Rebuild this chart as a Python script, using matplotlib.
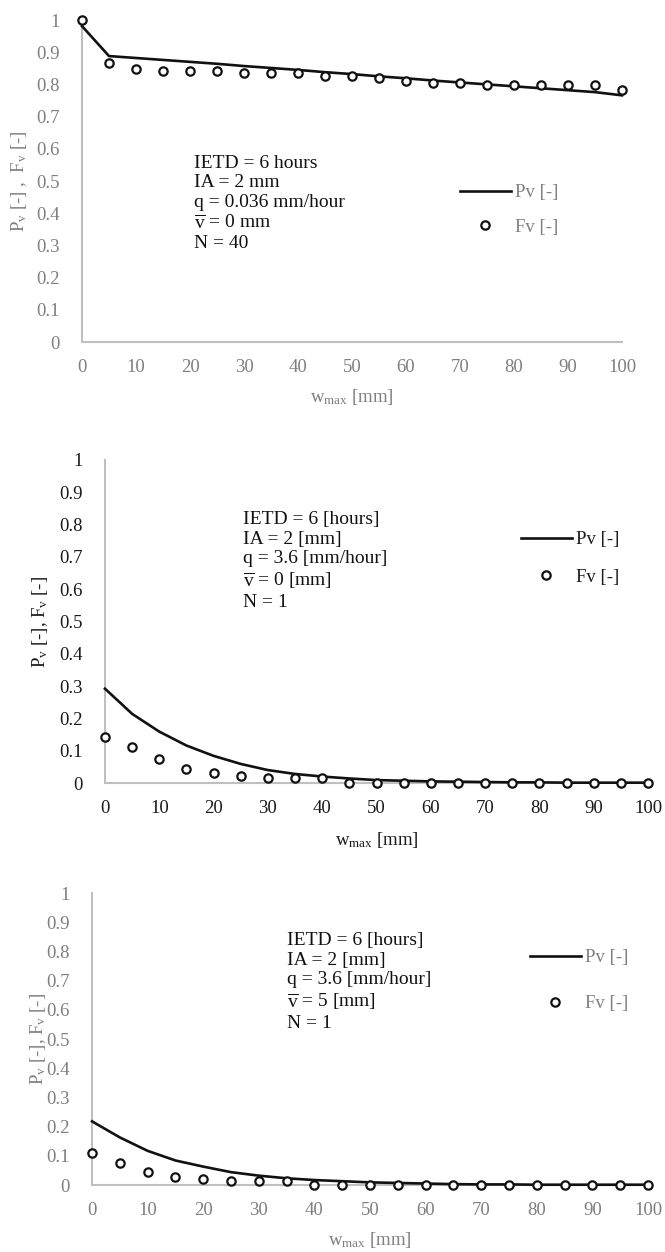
import matplotlib
matplotlib.use("Agg")
import matplotlib.pyplot as plt

plt.rcParams['font.family'] = ['Liberation Serif', 'DejaVu Serif']
plt.rcParams['mathtext.fontset'] = 'custom'
plt.rcParams['mathtext.rm'] = 'Liberation Serif'
plt.rcParams['mathtext.it'] = 'Liberation Serif:italic'
plt.rcParams['mathtext.bf'] = 'Liberation Serif:bold'

# w_max [mm]
wmax = [0, 5, 10, 15, 20, 25, 30, 35, 40, 45, 50, 55, 60, 65, 70, 75, 80, 85, 90, 95, 100]

# panel 1: IETD 6 h, q = 0.036, N = 40
pv1 = [0.981, 0.888, 0.882, 0.876, 0.870, 0.864, 0.857, 0.851, 0.845, 0.838, 0.832,
       0.825, 0.819, 0.812, 0.806, 0.800, 0.794, 0.788, 0.782, 0.776, 0.766]
fv1 = [1.000, 0.865, 0.849, 0.842, 0.842, 0.842, 0.835, 0.835, 0.835, 0.827, 0.827,
       0.819, 0.812, 0.804, 0.804, 0.797, 0.797, 0.797, 0.797, 0.797, 0.782]

# panel 2: q = 3.6, v = 0, N = 1
pv2 = [0.292, 0.214, 0.159, 0.116, 0.084, 0.059, 0.040, 0.028, 0.020, 0.014, 0.009,
       0.007, 0.005, 0.004, 0.003, 0.002, 0.002, 0.001, 0.001, 0.001, 0.001]
fv2 = [0.141, 0.111, 0.073, 0.044, 0.030, 0.023, 0.014, 0.014, 0.014, 0.0, 0.0,
       0.0, 0.0, 0.0, 0.0, 0.0, 0.0, 0.0, 0.0, 0.0, 0.0]

# panel 3: q = 3.6, v = 5, N = 1
pv3 = [0.218, 0.163, 0.117, 0.084, 0.063, 0.044, 0.032, 0.023, 0.017, 0.013, 0.009,
       0.007, 0.005, 0.003, 0.002, 0.002, 0.001, 0.001, 0.001, 0.001, 0.001]
fv3 = [0.111, 0.075, 0.045, 0.029, 0.021, 0.014, 0.014, 0.014, 0.0, 0.0, 0.0,
       0.0, 0.0, 0.0, 0.0, 0.0, 0.0, 0.0, 0.0, 0.0, 0.0]

xticks = [0, 10, 20, 30, 40, 50, 60, 70, 80, 90, 100]
yticks = [0, 0.1, 0.2, 0.3, 0.4, 0.5, 0.6, 0.7, 0.8, 0.9, 1]
ytick_labels = ['0', '0.1', '0.2', '0.3', '0.4', '0.5', '0.6', '0.7', '0.8', '0.9', '1']

notes1 = ("IETD = 6 hours\nIA = 2 mm\nq = 0.036 mm/hour\n"
          r"$\overline{\mathrm{v}}$ = 0 mm" "\nN = 40")
notes2 = ("IETD = 6 [hours]\nIA = 2 [mm]\nq = 3.6 [mm/hour]\n"
          r"$\overline{\mathrm{v}}$ = 0 [mm]" "\nN = 1")
notes3 = ("IETD = 6 [hours]\nIA = 2 [mm]\nq = 3.6 [mm/hour]\n"
          r"$\overline{\mathrm{v}}$ = 5 [mm]" "\nN = 1")

W, H = 665, 1252
fig = plt.figure(figsize=(W / 100, H / 100), dpi=100)

GRID = '#BFBFBF'
GREY = '#7F7F7F'
DARK = '#1A1A1A'


def panel(px_left, px_right, px_top, px_bottom, pv, fv, notes, note_xy,
          leg_xy, leg_space, txt_color, ylab, ylab_x, xlab_y, fs=13.5):
    ax = fig.add_axes([px_left / W, 1 - px_bottom / H,
                       (px_right - px_left) / W, (px_bottom - px_top) / H])
    ax.plot(wmax, pv, color='#111111', lw=1.9, label='Pv [-]', clip_on=False, zorder=3)
    ax.plot(wmax, fv, ls='none', marker='o', ms=6, mfc='white', mec='#111111',
            mew=1.6, label='Fv [-]', clip_on=False, zorder=4)
    ax.set_xlim(0, 100)
    ax.set_ylim(0, 1)
    ax.set_xticks(xticks)
    ax.set_yticks(yticks)
    ax.set_yticklabels(ytick_labels)
    for s in ['top', 'right']:
        ax.spines[s].set_visible(False)
    for s in ['left', 'bottom']:
        ax.spines[s].set_color(GRID)
        ax.spines[s].set_linewidth(1.5)
    ax.tick_params(length=0, labelsize=fs, labelcolor=txt_color)
    ax.tick_params(axis='y', pad=16)
    ax.tick_params(axis='x', pad=12)

    ax.set_xlabel(r'w$_{\mathrm{max}}$ [mm]', fontsize=fs, color=txt_color)
    ax.xaxis.set_label_coords(0.5, xlab_y)
    ax.xaxis.label.set_va('center')
    ax.set_ylabel(ylab, fontsize=fs, color=txt_color)
    ax.yaxis.set_label_coords(ylab_x, 0.5)
    ax.yaxis.label.set_va('center')

    ax.text(note_xy[0], note_xy[1], notes, fontsize=14, color='#111111',
            ha='left', va='center', linespacing=1.2)

    leg = ax.legend(loc='center left', bbox_to_anchor=leg_xy, frameon=False,
                    fontsize=fs, borderpad=0, borderaxespad=0, handlelength=2.7,
                    handletextpad=0.25, labelspacing=leg_space)
    for t in leg.get_texts():
        t.set_color(txt_color)
    return ax


panel(82, 622, 20, 342, pv1, fv1, notes1, (20.8, 0.43), (0.70, 0.41), 0.95,
      GREY, r'P$_{\mathrm{v}}$ [-] ,  F$_{\mathrm{v}}$ [-]', -0.117, -0.171)
panel(105, 648, 460, 783, pv2, fv2, notes2, (25.4, 0.6875), (0.766, 0.695), 1.1,
      DARK, r'P$_{\mathrm{v}}$ [-], F$_{\mathrm{v}}$ [-]', -0.12, -0.176)
panel(92, 648, 893, 1185, pv3, fv3, notes3, (35.0, 0.695), (0.788, 0.70), 1.55,
      GREY, r'P$_{\mathrm{v}}$ [-], F$_{\mathrm{v}}$ [-]', -0.097, -0.188)

fig.savefig('out.png', dpi=100)
